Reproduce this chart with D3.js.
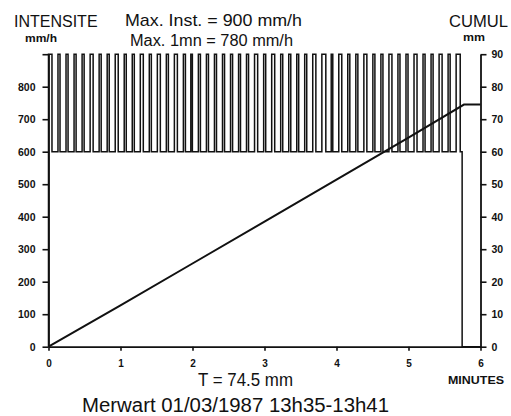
<!DOCTYPE html>
<html>
<head>
<meta charset="utf-8">
<script src="https://cdn.jsdelivr.net/npm/d3@7"></script>
<style>
  body { margin: 0; background: #fff; }
  text { font-family: 'Liberation Sans', Arial, Helvetica, sans-serif; fill: #111; }
</style>
</head>
<body>
<div id="chart"></div>
<script>
// axes
const minuteTicks = [0, 1, 2, 3, 4, 5, 6]
const intensityTicks = [0, 100, 200, 300, 400, 500, 600, 700, 800, 900]
const cumulTicks = [0, 10, 20, 30, 40, 50, 60, 70, 80, 90]

// intensity signal: 900 mm/h with short dips to 600 mm/h (seconds)
const dipStart = [2.9, 9.6, 16.3, 23.0, 29.7, 37.2, 43.9, 50.6, 58.1, 64.8, 71.5, 79.0, 85.7, 93.2, 99.9,
  107.4, 114.1, 119.9, 126.6, 133.3, 140.0, 146.7, 153.4, 160.0, 166.7, 174.3, 181.0, 188.5, 195.2, 201.9,
  208.5, 215.2, 222.8, 231.1, 236.9, 244.4, 251.1, 257.8, 265.3, 272.0, 278.7, 286.2, 292.9, 299.6, 307.1,
  313.8, 320.5, 328.0, 334.7]
const dipEnd = [7.9, 14.6, 21.3, 28.0, 34.7, 42.2, 48.9, 55.6, 63.1, 69.8, 76.5, 84.0, 90.7, 98.2, 104.9,
  112.4, 118.6, 124.9, 131.6, 138.3, 145.0, 151.7, 158.4, 165.0, 171.7, 179.3, 186.0, 193.5, 200.2, 206.9,
  213.5, 220.2, 227.8, 235.6, 241.9, 249.4, 256.1, 262.8, 270.3, 277.0, 283.7, 291.2, 297.9, 304.6, 312.1,
  318.8, 325.5, 333.0, 339.7]
const highValue = 900, lowValue = 600
const endTimes = [343.1, 344.7, 360]
const endValues = [600, 0, 0]

// cumulative rain (mm)
const cumulMinutes = [0, 1, 2, 3, 4, 5, 5.77, 6]
const cumulMm = [0, 12.7, 25.6, 38.5, 51.4, 64.3, 74.5, 74.5]

const width = 511, height = 416
const plot = { left: 48.5, right: 480.5, top: 54.2, bottom: 346.7 }

const x = d3.scaleLinear().domain([0, 6]).range([plot.left, plot.right])
const yI = d3.scaleLinear().domain([0, 900]).range([plot.bottom, plot.top])
const yC = d3.scaleLinear().domain([0, 90]).range([plot.bottom, plot.top])

const svg = d3.select('#chart').append('svg')
              .attr('width', width)
              .attr('height', height)

// intensity step path
const pts = [[0, 0], [0, highValue]]
dipStart.forEach((s, i) => {
    pts.push([s, lowValue])
    pts.push([dipEnd[i], highValue])
})
endTimes.forEach((t, i) => pts.push([t, endValues[i]]))

const stepLine = d3.line()
                   .x(d => x(d[0] / 60))
                   .y(d => yI(d[1]))
                   .curve(d3.curveStepAfter)

svg.append('path')
   .datum(pts)
   .attr('d', stepLine)
   .style('fill', 'none')
   .style('stroke', '#111')
   .style('stroke-width', 1.5)

// cumulative line
const cumLine = d3.line()
                  .x((d, i) => x(cumulMinutes[i]))
                  .y(d => yC(d))

svg.append('path')
   .datum(cumulMm)
   .attr('d', cumLine)
   .style('fill', 'none')
   .style('stroke', '#111')
   .style('stroke-width', 2)

// axes
const styleAxis = (g, size) => {
    g.selectAll('.domain').attr('stroke', '#111').attr('stroke-width', 1.8)
    g.selectAll('.tick line').attr('stroke', '#111').attr('stroke-width', 1.6)
    g.selectAll('.tick text')
     .style('font-family', "'Liberation Sans', Arial, sans-serif")
     .style('font-weight', '700')
     .style('font-size', size + 'px')
     .attr('fill', '#111')
}

svg.append('g')
   .attr('transform', `translate(0, ${plot.bottom})`)
   .call(d3.axisBottom(x).tickValues(minuteTicks).tickSize(4).tickSizeOuter(0).tickPadding(9).tickFormat(d3.format('d')))
   .call(g => styleAxis(g, 10))

svg.append('g')
   .attr('transform', `translate(${plot.left}, 0)`)
   .call(d3.axisLeft(yI).tickValues(intensityTicks).tickSize(6).tickSizeOuter(0).tickPadding(7)
           .tickFormat(d => d === 900 ? '' : d))
   .call(g => styleAxis(g, 10.5))

svg.append('g')
   .attr('transform', `translate(${plot.right}, 0)`)
   .call(d3.axisRight(yC).tickValues(cumulTicks).tickSize(6).tickSizeOuter(0).tickPadding(5))
   .call(g => styleAxis(g, 10.5))

// texts
const label = (txt, px, py, size, opts = {}) => {
    const t = svg.append('text')
                 .text(txt)
                 .attr('x', px)
                 .attr('y', py)
                 .style('font-size', size + 'px')
                 .style('font-weight', opts.bold ? '700' : '400')
    if (opts.len) t.attr('textLength', opts.len).attr('lengthAdjust', 'spacingAndGlyphs')
    return t
}

label('INTENSITE', 14, 27, 16)
label('mm/h', 25, 42, 10, { bold: true, len: 32 })
label('Max. Inst. = 900 mm/h', 125, 26, 17, { len: 177 })
label('Max. 1mn = 780 mm/h', 130, 46, 16, { len: 163 })
label('CUMUL', 449, 27, 16, { len: 59 })
label('mm', 463, 41, 10, { bold: true, len: 22 })
label('T = 74.5 mm', 198, 386, 19, { len: 95 })
label('MINUTES', 448, 384, 11, { bold: true, len: 56 })
label('Merwart 01/03/1987 13h35-13h41', 82, 412, 20, { len: 307 })
</script>
</body>
</html>
